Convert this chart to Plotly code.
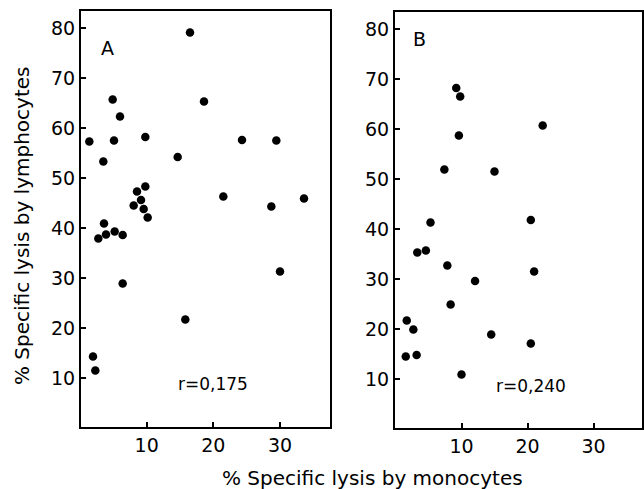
import plotly.graph_objects as go

# Panel A: monocytes (x) vs lymphocytes (y)
a_mono = [1.4, 16.5, 4.9, 6.0, 5.1, 9.8, 3.5, 14.65, 18.6, 24.3, 29.45, 21.5, 28.7, 33.6,
          9.8, 8.55, 9.15, 8.05, 9.55, 10.15, 3.6, 2.75, 3.9, 5.2, 6.4,
          6.4, 15.8, 30.0, 1.95, 2.3]
a_lymph = [57.3, 79.1, 65.7, 62.3, 57.5, 58.2, 53.3, 54.2, 65.3, 57.6, 57.5, 46.3, 44.3, 45.9,
           48.3, 47.3, 45.6, 44.5, 43.8, 42.1, 40.9, 37.9, 38.7, 39.3, 38.6,
           28.9, 21.7, 31.3, 14.3, 11.5]

# Panel B
b_mono = [9.2, 9.8, 9.6, 22.3, 7.4, 15.0, 5.3, 20.5,
          3.3, 4.6, 7.85, 12.05, 21.0, 8.35, 1.7, 2.7, 14.5, 20.5, 1.55, 3.2, 10.0]
b_lymph = [68.2, 66.5, 58.7, 60.7, 51.9, 51.5, 41.3, 41.8,
           35.3, 35.7, 32.7, 29.6, 31.5, 24.9, 21.7, 19.9, 18.9, 17.1, 14.5, 14.8, 10.9]

x_ticks = [10, 20, 30]
y_ticks = [10, 20, 30, 40, 50, 60, 70, 80]
r_a = "r=0,175"
r_b = "r=0,240"

FONT = "DejaVu Sans"
fig = go.Figure()
fig.add_trace(go.Scatter(x=a_mono, y=a_lymph, mode="markers",
                         marker=dict(color="black", size=8.5), xaxis="x", yaxis="y",
                         showlegend=False))
fig.add_trace(go.Scatter(x=b_mono, y=b_lymph, mode="markers",
                         marker=dict(color="black", size=8.5), xaxis="x2", yaxis="y2",
                         showlegend=False))

ax_common = dict(showgrid=False, zeroline=False, showline=True, linecolor="black",
                 linewidth=2, mirror=True, ticks="inside", ticklen=5, tickwidth=1.5,
                 tickcolor="black", tickfont=dict(family=FONT, size=19, color="black"))

fig.update_layout(
    width=644, height=489,
    margin=dict(l=0, r=0, t=0, b=0),
    paper_bgcolor="white", plot_bgcolor="white",
    xaxis=dict(domain=[81/644, 330/644], range=[0.15, 37.5], tickvals=x_ticks,
               anchor="y", **ax_common),
    yaxis=dict(domain=[62/489, 478/489], range=[0.2, 83.4], tickvals=y_ticks,
               anchor="x", **ax_common),
    xaxis2=dict(domain=[395/644, 642/644], range=[-0.08, 37.35], tickvals=x_ticks,
                anchor="y2", **ax_common),
    yaxis2=dict(domain=[61/489, 477/489], range=[0.2, 83.4], tickvals=y_ticks,
                anchor="x2", **ax_common),
)

ann_font = dict(family=FONT, size=17, color="black")
fig.add_annotation(x=4.1, y=76, xref="x", yref="y", text="A", showarrow=False,
                   font=dict(family=FONT, size=19, color="black"))
fig.add_annotation(x=3.7, y=78, xref="x2", yref="y2", text="B", showarrow=False,
                   font=dict(family=FONT, size=19, color="black"))
fig.add_annotation(x=20.0, y=8.8, xref="x", yref="y", text=r_a, showarrow=False, font=ann_font)
fig.add_annotation(x=20.6, y=8.6, xref="x2", yref="y2", text=r_b, showarrow=False, font=ann_font)

fig.add_annotation(x=22/644, y=1-226/489, xref="paper", yref="paper",
                   text="% Specific lysis by lymphocytes", textangle=-90, showarrow=False,
                   xanchor="center", yanchor="middle",
                   font=dict(family=FONT, size=20, color="black"))
fig.add_annotation(x=372/644, y=1-478/489, xref="paper", yref="paper",
                   text="% Specific lysis by monocytes", showarrow=False,
                   xanchor="center", yanchor="middle",
                   font=dict(family=FONT, size=20, color="black"))

fig.write_html("out.html", config={"displayModeBar": False},
               post_script="document.body.style.margin='0';document.body.style.overflow='hidden';")
